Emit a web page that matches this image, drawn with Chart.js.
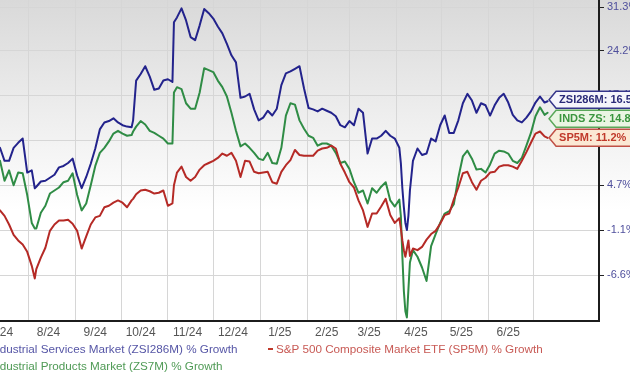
<!DOCTYPE html>
<html><head><meta charset="utf-8">
<script src="https://cdn.jsdelivr.net/npm/chart.js@4.4.1/dist/chart.umd.min.js"></script>
<style>
html,body{margin:0;padding:0;background:#fff;overflow:hidden;width:630px;height:380px;position:relative;}
#wrap{position:absolute;left:0;top:0;width:630px;height:345px;}
.leg{position:absolute;font-family:"Liberation Sans",Arial,sans-serif;font-size:11.7px;white-space:nowrap;line-height:14px;}
.mk{display:inline-block;width:5px;height:2px;vertical-align:middle;margin-right:3px;position:relative;top:-1px;}
</style></head><body>
<div id="wrap"><canvas id="c"></canvas></div>
<div class="leg" style="left:-18px;top:342px;color:#5656a6"><span class="mk" style="background:#2a2a90"></span>Industrial Services Market (ZSI286M) % Growth</div>
<div class="leg" style="left:268px;top:342px;color:#c85a55"><span class="mk" style="background:#c0392b"></span>S&amp;P 500 Composite Market ETF (SP5M) % Growth</div>
<div class="leg" style="left:-18px;top:359px;color:#4f9a55"><span class="mk" style="background:#2f8c45"></span>Industrial Products Market (ZS7M) % Growth</div>
<script>
const dates = [
'2024-07-13','2024-07-16','2024-07-19','2024-07-22','2024-07-25','2024-07-28','2024-07-31',
'2024-08-03','2024-08-05','2024-08-06','2024-08-09','2024-08-12','2024-08-15','2024-08-18','2024-08-21','2024-08-24','2024-08-27','2024-08-30',
'2024-09-02','2024-09-05','2024-09-08','2024-09-11','2024-09-14','2024-09-17','2024-09-20','2024-09-23','2024-09-26','2024-09-29',
'2024-10-02','2024-10-05','2024-10-08','2024-10-09','2024-10-11','2024-10-14','2024-10-17','2024-10-20','2024-10-23','2024-10-26','2024-10-29',
'2024-11-01','2024-11-04','2024-11-05','2024-11-07','2024-11-10','2024-11-13','2024-11-16','2024-11-19','2024-11-22','2024-11-25','2024-11-28',
'2024-12-01','2024-12-04','2024-12-07','2024-12-10','2024-12-13','2024-12-16','2024-12-19','2024-12-22','2024-12-25','2024-12-28','2024-12-31',
'2025-01-03','2025-01-06','2025-01-09','2025-01-12','2025-01-15','2025-01-18','2025-01-21','2025-01-24','2025-01-27','2025-01-30',
'2025-02-02','2025-02-05','2025-02-08','2025-02-11','2025-02-14','2025-02-17','2025-02-20','2025-02-23','2025-02-26',
'2025-03-01','2025-03-04','2025-03-07','2025-03-10','2025-03-13','2025-03-16','2025-03-19','2025-03-22','2025-03-25','2025-03-28','2025-03-31',
'2025-04-03','2025-04-04','2025-04-05','2025-04-06','2025-04-07','2025-04-08','2025-04-09','2025-04-10','2025-04-12','2025-04-15','2025-04-18','2025-04-21','2025-04-24','2025-04-27','2025-04-30',
'2025-05-03','2025-05-06','2025-05-09','2025-05-12','2025-05-15','2025-05-18','2025-05-21','2025-05-24','2025-05-27','2025-05-30',
'2025-06-02','2025-06-05','2025-06-08','2025-06-11','2025-06-14','2025-06-17','2025-06-20','2025-06-23','2025-06-26','2025-06-29',
'2025-07-02','2025-07-05','2025-07-08','2025-07-10'
];
// Industrial Services Market (ZSI286M) % growth
const servicesGrowth = [
9.8,8.0,8.0,9.8,10.5,11.1,6.4,
6.7,4.3,4.5,5.2,5.3,5.7,6.1,7.1,7.3,7.7,8.3,
6.0,4.3,5.8,7.6,9.7,12.4,13.4,13.6,14.0,13.4,
13.0,12.8,12.7,13.7,19.6,20.6,21.8,20.2,18.2,18.4,19.6,
19.8,19.4,28.8,29.6,31.1,29.1,26.4,25.9,28.3,31.0,30.3,
29.4,28.1,27.0,25.3,23.5,22.4,17.0,17.2,17.6,15.3,13.7,
14.1,15.1,14.4,15.4,18.9,20.7,21.0,21.4,21.8,18.4,
15.5,15.3,15.0,15.4,15.1,14.8,14.3,13.0,12.7,
13.6,13.0,15.4,14.8,9.0,11.1,11.1,11.5,12.2,11.5,11.1,
9.8,7.7,4.3,1.8,-0.2,-1.1,0.7,4.0,8.0,9.7,8.8,9.0,11.1,10.7,13.0,
14.4,11.9,11.9,13.7,16.2,17.6,16.6,14.8,16.2,15.9,
14.4,15.9,17.0,17.6,16.3,14.5,13.7,13.4,14.1,15.0,
16.3,17.2,16.3,16.5
];
// Industrial Products Market (ZS7M) % growth
const productsGrowth = [
8.0,5.3,6.7,4.7,6.4,6.3,3.4,
-0.2,-0.9,-0.9,1.1,2.0,3.6,4.0,4.4,5.1,5.3,6.3,
3.4,1.4,2.3,4.7,7.3,9.1,9.8,10.7,11.8,12.2,
11.8,11.5,11.6,12.1,12.8,13.6,13.1,12.2,11.9,11.5,11.1,
10.4,10.4,17.8,18.6,18.3,16.2,15.4,15.4,17.8,21.5,21.2,
20.9,19.6,18.6,17.2,14.8,12.2,10.0,10.4,9.8,9.1,8.3,
8.1,9.1,7.7,7.6,9.8,14.4,16.2,16.0,13.7,12.5,
11.5,11.2,10.1,10.4,10.4,10.1,9.1,7.7,7.9,
6.9,5.1,3.7,4.0,2.3,4.3,3.7,4.5,5.1,2.7,1.9,
2.8,0.7,-4.3,-8.5,-10.8,-11.5,-8.3,-5.1,-3.6,-4.4,-5.7,-7.3,-3.1,-1.6,-0.2,
1.0,1.3,2.2,5.7,8.6,9.4,8.3,6.8,6.9,6.4,
7.5,9.0,9.4,9.3,9.0,8.0,7.7,8.4,10.1,11.9,
14.3,15.6,14.5,14.8
];
// S&P 500 Composite Market ETF (SP5M) % growth
const sp500Growth = [
1.4,0.7,-0.4,-1.7,-2.4,-2.9,-3.8,
-5.5,-7.0,-5.9,-4.5,-3.3,-1.2,-0.4,0.1,0.1,0.2,-0.3,
-1.2,-3.4,-1.9,-0.4,0.5,0.7,1.8,2.0,2.4,2.7,
2.4,1.8,2.7,2.9,3.5,4.0,4.1,3.9,3.6,3.7,4.0,
2.0,2.3,4.7,6.4,7.2,5.8,5.3,5.8,6.8,7.4,7.7,
8.0,8.4,9.0,8.7,9.1,8.0,5.8,8.0,7.9,6.5,6.3,
6.4,6.5,5.1,4.9,6.5,7.4,8.1,9.5,8.8,8.7,
8.7,8.7,9.4,9.7,9.8,10.1,9.7,7.6,6.4,
5.1,4.4,2.7,1.4,-0.7,1.0,1.0,1.9,2.9,0.8,-0.2,
0.4,-0.9,-2.4,-3.6,-4.4,-3.4,-2.4,-4.3,-3.4,-3.6,-3.2,-2.3,-1.6,-1.2,-0.3,
0.8,1.0,2.8,4.4,6.3,6.5,5.1,4.1,5.3,5.7,
6.4,6.5,7.2,7.4,7.4,7.2,6.9,8.0,9.2,10.5,
11.8,12.1,11.4,11.2
];
const seriesNames = ['ZSI286M','INDS ZS','SP5M'];
const yTickValues = [-6.6,-1.1,4.7,10.8,17.4,24.2,31.3];
const monthLabels = ['7/24','8/24','9/24','10/24','11/24','12/24','1/25','2/25','3/25','4/25','5/25','6/25'];
const gridMonths = ['2024-08-01','2024-09-01','2024-10-01','2024-11-01','2024-12-01','2025-01-01','2025-02-01','2025-03-01','2025-04-01','2025-05-01','2025-06-01','2025-07-01'];
const xStart = '2024-07-13', xEnd = '2025-08-13';
const yMinPct = -11.9, yMaxPct = 32.5;

const FONT = '"Liberation Sans", Arial, sans-serif';
const day = s => Date.UTC(+s.slice(0,4), +s.slice(5,7)-1, +s.slice(8,10)) / 864e5;
const gridVals = gridMonths.map(day);
const labelVals = [];
const labelMap = new Map();
monthLabels.forEach(l => {
  const [m, yy] = l.split('/');
  const v = Date.UTC(2000 + (+yy), +m - 1, 14) / 864e5;
  labelVals.push(v); labelMap.set(v, l);
});
const gridSet = new Set(gridVals);
const toPts = arr => dates.map((d, i) => ({x: day(d), y: 100 + arr[i]}));

const bgPlugin = {
  id: 'bg',
  beforeDraw(chart) {
    const ctx = chart.ctx;
    const g = ctx.createLinearGradient(0, 0, 0, 210);
    g.addColorStop(0, '#d9d9d9');
    g.addColorStop(1, '#ffffff');
    ctx.save();
    ctx.fillStyle = g;
    ctx.fillRect(0, 0, chart.width, chart.height);
    ctx.restore();
  }
};

const calloutStyles = [
  {fill: '#f4f4fb', stroke: '#34348a', text: '#2a2a78'},
  {fill: '#eaf5e3', stroke: '#5aa85a', text: '#3b963f'},
  {fill: '#fbe8d4', stroke: '#c05046', text: '#c0392b'}
];
const seriesArrays = [servicesGrowth, productsGrowth, sp500Growth];

const calloutPlugin = {
  id: 'callouts',
  afterDraw(chart) {
    const ctx = chart.ctx;
    const items = chart.data.datasets.map((ds, i) => {
      const meta = chart.getDatasetMeta(i);
      const pt = meta.data[meta.data.length - 1];
      return {i, x: pt.x, y: pt.y};
    }).sort((a, b) => a.y - b.y);
    const gap = 19;
    const pos = [];
    items.forEach((it, k) => {
      let y = it.y;
      if (k > 0 && y < pos[k - 1] + gap) y = pos[k - 1] + gap;
      pos.push(y);
    });
    const meanShift = pos.reduce((s, v, k) => s + (v - items[k].y), 0) / pos.length;
    ctx.save();
    items.forEach((it, k) => {
      const st = calloutStyles[it.i];
      const cy = pos[k] - meanShift / 2;
      const tip = it.x + 1.5, left = tip + 7, right = chart.width + 20, h = 8.5;
      ctx.beginPath();
      ctx.moveTo(tip, cy);
      ctx.lineTo(left, cy - h);
      ctx.lineTo(right, cy - h);
      ctx.lineTo(right, cy + h);
      ctx.lineTo(left, cy + h);
      ctx.closePath();
      ctx.fillStyle = st.fill;
      ctx.fill();
      ctx.lineWidth = 1.5;
      ctx.strokeStyle = st.stroke;
      ctx.stroke();
      const arr = seriesArrays[it.i];
      const txt = seriesNames[it.i] + ': ' + arr[arr.length - 1].toFixed(1) + '%';
      ctx.fillStyle = st.text;
      ctx.font = 'bold 11px ' + FONT;
      ctx.textBaseline = 'middle';
      ctx.textAlign = 'left';
      ctx.fillText(txt, left + 3, cy + 0.5);
    });
    ctx.restore();
  }
};

new Chart(document.getElementById('c'), {
  type: 'line',
  data: {
    datasets: [
      {label: 'Industrial Services Market (ZSI286M) % Growth', data: toPts(servicesGrowth), borderColor: '#23238c', order: 0},
      {label: 'Industrial Products Market (ZS7M) % Growth', data: toPts(productsGrowth), borderColor: '#2f8c45', order: 2},
      {label: 'S&P 500 Composite Market ETF (SP5M) % Growth', data: toPts(sp500Growth), borderColor: '#b52a26', order: 1}
    ]
  },
  options: {
    responsive: true,
    maintainAspectRatio: false,
    animation: false,
    devicePixelRatio: 1,
    layout: {padding: 0},
    elements: {
      point: {radius: 0, hoverRadius: 0},
      line: {borderWidth: 2, tension: 0, borderJoinStyle: 'round', borderCapStyle: 'round', fill: false}
    },
    plugins: {legend: {display: false}, tooltip: {enabled: false}},
    scales: {
      x: {
        type: 'linear',
        min: day(xStart), max: day(xEnd),
        afterBuildTicks: s => {
          s.ticks = gridVals.concat(labelVals).sort((a, b) => a - b).map(v => ({value: v}));
        },
        afterFit: s => { s.height = 24; s.paddingLeft = 0; s.paddingRight = 0; },
        ticks: {
          autoSkip: false, maxRotation: 0, minRotation: 0, padding: 4,
          color: '#555555', font: {family: FONT, size: 12},
          callback: v => labelMap.get(v) || ''
        },
        grid: {
          drawTicks: false, lineWidth: 1,
          color: c => (c.tick && gridSet.has(c.tick.value)) ? '#d6d6d6' : 'rgba(0,0,0,0)'
        },
        border: {display: true, color: '#1c1c1c', width: 2}
      },
      y: {
        type: 'logarithmic',
        position: 'right',
        min: 100 + yMinPct, max: 100 + yMaxPct,
        afterBuildTicks: s => { s.ticks = yTickValues.map(v => ({value: 100 + v})); },
        afterFit: s => { s.width = 31; s.paddingTop = 0; s.paddingBottom = 0; },
        ticks: {
          autoSkip: false, padding: 3, color: '#4f4f9c',
          font: {family: FONT, size: 11},
          callback: v => (v - 100).toFixed(1) + '%'
        },
        grid: {color: '#d6d6d6', lineWidth: 1, drawTicks: true, tickLength: 5, tickColor: '#222'},
        border: {display: true, color: '#1c1c1c', width: 2}
      }
    }
  },
  plugins: [bgPlugin, calloutPlugin]
});
</script>
</body></html>
